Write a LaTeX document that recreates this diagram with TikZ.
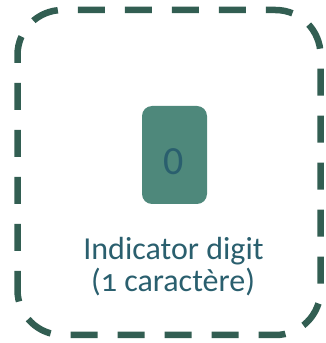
\documentclass[tikz,border=0pt]{standalone}
\usepackage{fontspec}
\setmainfont{Carlito}[Numbers=OldStyle]
\newfontfamily\liningfont{Carlito}
\definecolor{framegreen}{HTML}{325E52}
\definecolor{boxfill}{HTML}{4E887B}
\definecolor{textteal}{HTML}{2A5F6E}
\begin{document}
\begin{tikzpicture}[x=1pt,y=1pt,
  frame/.style={draw=framegreen,line width=6.5pt,dash pattern=on 27pt off 20pt,dash phase=8pt,rounded corners=45pt},
  digitbox/.style={fill=boxfill,rounded corners=10pt,minimum width=65pt,minimum height=98pt,inner sep=0pt},
  label/.style={text=textteal,font=\fontsize{32}{32}\selectfont,anchor=base,inner sep=0pt}]
\useasboundingbox (0,0) rectangle (326,343);
\draw[frame] (17.5,8) rectangle (320.5,333);
\node[digitbox] (box) at (174.5,188) {};
\node[text=textteal,font=\liningfont\fontsize{40}{40}\selectfont] (digit) at (173.5,181) {0};
\node[label] (lbl1) at (173.5,83) {Indicator digit};
\node[label] (lbl2) at (173,51) {(1 caractère)};
\end{tikzpicture}
\end{document}
